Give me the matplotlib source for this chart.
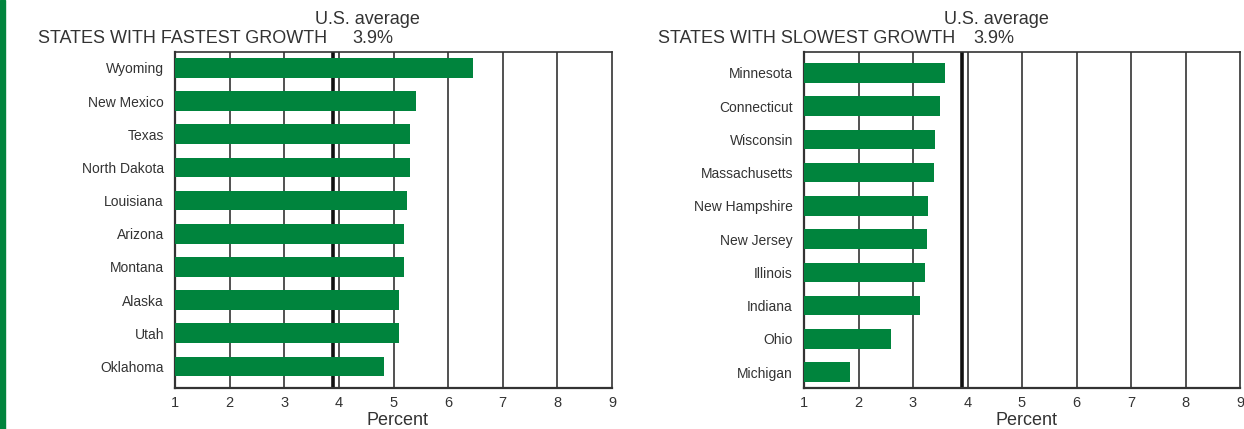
import matplotlib
matplotlib.use("Agg")
import matplotlib.pyplot as plt

# Datos
fast_states = ["Wyoming", "New Mexico", "Texas", "North Dakota", "Louisiana",
               "Arizona", "Montana", "Alaska", "Utah", "Oklahoma"]
fast_values = [6.45, 5.41, 5.30, 5.30, 5.24, 5.19, 5.19, 5.10, 5.10, 4.83]

slow_states = ["Minnesota", "Connecticut", "Wisconsin", "Massachusetts",
               "New Hampshire", "New Jersey", "Illinois", "Indiana", "Ohio", "Michigan"]
slow_values = [3.58, 3.49, 3.40, 3.38, 3.27, 3.25, 3.22, 3.12, 2.60, 1.85]

us_average = 3.9
x_ticks = [1, 2, 3, 4, 5, 6, 7, 8, 9]

GREEN = "#00843D"
DARK = "#333333"
W, H = 1244, 429
REG = ["Liberation Sans", "DejaVu Sans"]

fig = plt.figure(figsize=(W / 100, H / 100), dpi=100)

# franja verde del borde izquierdo
fig.patches.append(plt.Rectangle((0, 0), 5 / W, 1, transform=fig.transFigure,
                                 color=GREEN, zorder=0))


def draw_panel(x0, x1, states, values, ylim):
    ax = fig.add_axes([x0 / W, 1 - 388 / H, (x1 - x0) / W, (388 - 52) / H])
    pos = list(range(len(states)))
    for g in x_ticks[1:-1]:
        ax.axvline(g, color=DARK, lw=1.2, zorder=1)
    ax.axvline(us_average, color="#111111", lw=2.6, zorder=2)
    ax.barh(pos, values, left=0, height=0.59, color=GREEN, zorder=3)
    ax.set_xlim(1, 9)
    ax.set_ylim(*ylim)
    ax.set_yticks(pos)
    ax.set_yticklabels(states, fontfamily=REG, fontsize=10, color=DARK)
    ax.set_xticks(x_ticks)
    ax.set_xticklabels([str(t) for t in x_ticks], fontfamily=REG,
                       fontsize=10.5, color=DARK)
    ax.tick_params(length=0, pad=6)
    ax.tick_params(axis="y", pad=8)
    for s in ax.spines.values():
        s.set_color(DARK)
        s.set_linewidth(1.2)
    ax.spines["left"].set_linewidth(1.6)
    ax.spines["bottom"].set_linewidth(1.6)
    ax.set_xlabel("Percent", fontfamily=REG, fontsize=13, color=DARK)
    ax.xaxis.set_label_coords(0.51, -0.07)
    return ax


draw_panel(175, 612, fast_states, fast_values, (9.65, -0.48))
draw_panel(804, 1240, slow_states, slow_values, (9.48, -0.63))

# titulos
fig.text(38 / W, 1 - 43 / H, "STATES WITH FASTEST GROWTH", fontfamily=REG,
         fontsize=13, color=DARK, va="baseline", ha="left")
fig.text(367 / W, 1 - 24 / H, "U.S. average", fontfamily=REG,
         fontsize=13, color=DARK, va="baseline", ha="center")
fig.text(352 / W, 1 - 43 / H, "3.9%", fontfamily=REG,
         fontsize=13, color=DARK, va="baseline", ha="left")

fig.text(658 / W, 1 - 43 / H, "STATES WITH SLOWEST GROWTH", fontfamily=REG,
         fontsize=13, color=DARK, va="baseline", ha="left")
fig.text(996 / W, 1 - 24 / H, "U.S. average", fontfamily=REG,
         fontsize=13, color=DARK, va="baseline", ha="center")
fig.text(973 / W, 1 - 43 / H, "3.9%", fontfamily=REG,
         fontsize=13, color=DARK, va="baseline", ha="left")

fig.savefig("out.png", dpi=100)
